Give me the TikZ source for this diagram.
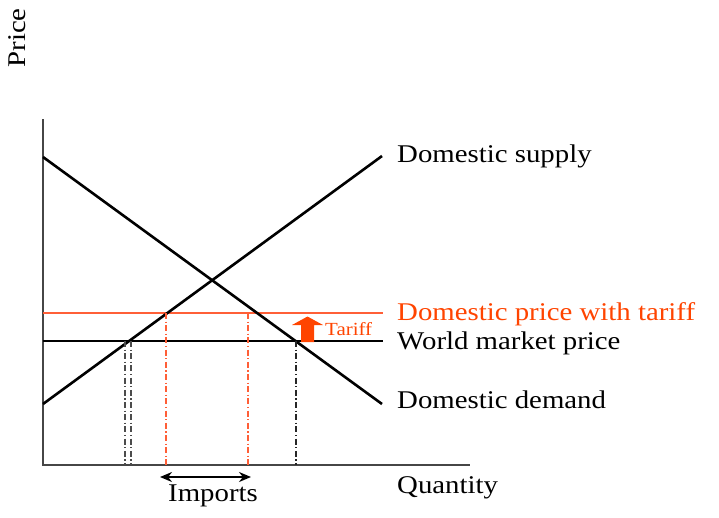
\documentclass[tikz,border=0pt]{standalone}
\usepackage{fontspec}
\setmainfont{Liberation Serif}[FakeStretch=1.13]
\usetikzlibrary{arrows.meta}
\definecolor{tariffred}{RGB}{255,68,0}
\definecolor{pricered}{RGB}{255,95,55}
\definecolor{axisgray}{RGB}{70,70,70}

\begin{document}
\begin{tikzpicture}[
  x=1pt, y=-1pt,
  font=\fontsize{25.5}{30}\selectfont,
  >={Stealth[length=12pt,width=10pt]},
  axis/.style={draw=axisgray, line width=1.4pt},
  curve/.style={draw=black, line width=2.6pt},
  price/.style={draw=#1, line width=1.1pt},
  guide/.style={draw=#1, line width=1.1pt, dash pattern=on 6pt off 2.5pt on 1.2pt off 2.5pt},
  lbl/.style={anchor=base west, inner sep=0pt}
]
\useasboundingbox (0,0) rectangle (719,517);

% Axes
\coordinate (origin) at (43,465);
\coordinate (ytop) at (43,119);
\coordinate (xend) at (470,465);
\draw[axis] (ytop) -- (origin) -- (xend);
\node[rotate=90, inner sep=0pt] (ylab) at (17,38) {Price};
\node[lbl] (xlab) at (397,493) {Quantity};

% Price levels
\coordinate (w0) at (43,341);
\coordinate (w1) at (383,341);
\coordinate (t0) at (43,313);
\coordinate (t1) at (383,313);
\draw[price=pricered] (t0) -- (t1);
\draw[price=black] (w0) -- (w1);

% Supply and demand
\coordinate (s0) at (43,404);
\coordinate (s1) at (382,156);
\coordinate (d0) at (43,157);
\coordinate (d1) at (382,404);
\draw[curve] (s0) -- (s1);
\draw[curve] (d0) -- (d1);

% Guides to the quantity axis
\draw[guide=black!70] (125,341) -- (125,465);
\draw[guide=black!70] (131,341) -- (131,465);
\draw[guide=pricered] (166,313) -- (166,465);
\draw[guide=pricered] (248,313) -- (248,465);
\draw[guide=black!85] (296,341) -- (296,465);

% Tariff arrow
\fill[tariffred] (301,342) -- (314,342) -- (314,325) -- (323,325)
  -- (307.5,316.5) -- (292,325) -- (301,325) -- cycle;
\node[lbl, text=tariffred, font=\fontsize{18.5}{22}\selectfont] (tariff) at (325,335) {Tariff};

% Curve labels
\node[lbl] (supply) at (397,162) {Domestic supply};
\node[lbl, text=tariffred] (tprice) at (397,320) {Domestic price with tariff};
\node[lbl] (wprice) at (397,349) {World market price};
\node[lbl] (demand) at (397,408) {Domestic demand};

% Imports
\coordinate (m0) at (160,477);
\coordinate (m1) at (251,477);
\draw[<->, line width=1.6pt] (m0) -- (m1);
\node[lbl] (imports) at (168,501) {Imports};
\end{tikzpicture}
\end{document}
